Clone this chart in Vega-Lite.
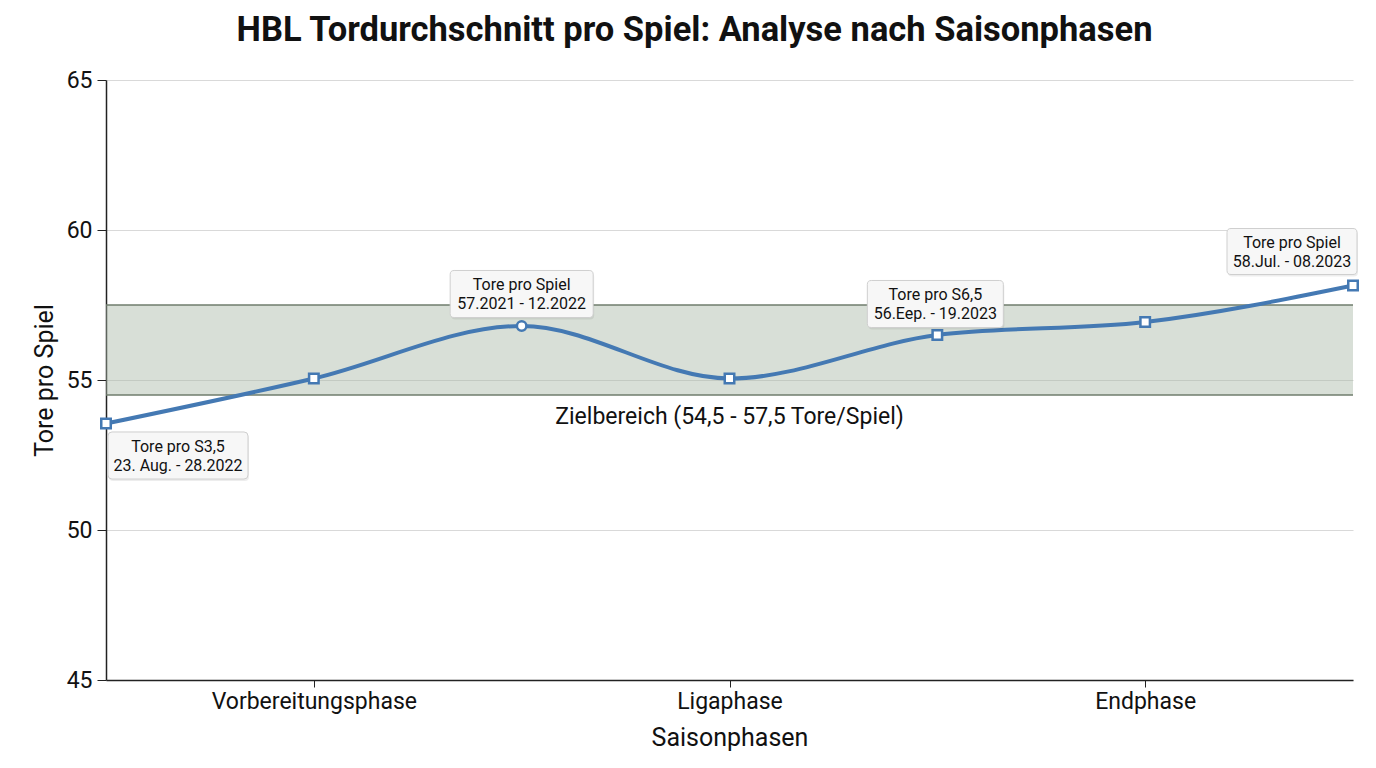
{
  "$schema": "https://vega.github.io/schema/vega-lite/v6.json",
  "autosize": {"type": "none"},
  "padding": {"left": 106, "top": 80, "right": 23, "bottom": 88},
  "width": 1247,
  "height": 600,
  "background": "white",
  "config": {
    "font": "Roboto",
    "view": {"stroke": null},
    "axis": {"labelFont": "Roboto", "titleFont": "Roboto", "labelColor": "#111111", "titleColor": "#111111", "labelLimit": 500}
  },
  "title": {
    "text": "HBL Tordurchschnitt pro Spiel: Analyse nach Saisonphasen",
    "fontSize": 34.5,
    "fontWeight": "bold",
    "font": "Roboto",
    "color": "#111111",
    "anchor": "middle",
    "dx": -35,
    "offset": 21
  },
  "datasets": {
    "punkte": [
      {"idx": 0, "tore": 53.55, "label": "Tore pro S3,5\n23. Aug. - 28.2022"},
      {"idx": 1, "tore": 55.05, "label": ""},
      {"idx": 2, "tore": 56.8, "label": "Tore pro Spiel\n57.2021 - 12.2022"},
      {"idx": 3, "tore": 55.05, "label": ""},
      {"idx": 4, "tore": 56.5, "label": "Tore pro S6,5\n56.Eep. - 19.2023"},
      {"idx": 5, "tore": 56.93, "label": ""},
      {"idx": 6, "tore": 58.15, "label": "Tore pro Spiel\n58.Jul. - 08.2023"}
    ],
    "band": [{"von": 54.5, "bis": 57.5, "mitte": 3, "text": "Zielbereich (54,5 - 57,5 Tore/Spiel)"}]
  },
  "layer": [
    {
      "data": {"name": "band"},
      "mark": {"type": "rect", "fill": "#a9b8a6", "opacity": 0.45},
      "encoding": {
        "y": {
          "field": "von", "type": "quantitative",
          "scale": {"domain": [45, 65], "nice": false, "zero": false},
          "axis": {
            "values": [45, 50, 55, 60, 65],
            "title": "Tore pro Spiel",
            "grid": true,
            "gridColor": "#d9d9d9",
            "domainColor": "#222222",
            "domainWidth": 1.5,
            "tickColor": "#222222",
            "tickSize": 9,
            "labelFontSize": 23,
            "titleFontSize": 25,
            "titleFontWeight": "normal",
            "labelPadding": 5,
            "titlePadding": 9
          }
        },
        "y2": {"field": "bis"}
      }
    },
    {
      "data": {"name": "band"},
      "mark": {"type": "rule", "color": "#6f7d6c", "strokeWidth": 1.5},
      "encoding": {"y": {"field": "von", "type": "quantitative"}}
    },
    {
      "data": {"name": "band"},
      "mark": {"type": "rule", "color": "#6f7d6c", "strokeWidth": 1.5},
      "encoding": {"y": {"field": "bis", "type": "quantitative"}}
    },
    {
      "data": {"name": "punkte"},
      "mark": {"type": "line", "interpolate": "monotone", "color": "#4479b3", "strokeWidth": 4},
      "encoding": {
        "x": {
          "field": "idx", "type": "quantitative",
          "scale": {"domain": [0, 6], "nice": false, "zero": false},
          "axis": {
            "values": [1, 3, 5],
            "labelExpr": "datum.value == 1 ? 'Vorbereitungsphase' : datum.value == 3 ? 'Ligaphase' : 'Endphase'",
            "title": "Saisonphasen",
            "grid": false,
            "domainColor": "#222222",
            "domainWidth": 1.5,
            "tickColor": "#222222",
            "tickSize": 7,
            "labelFontSize": 23,
            "titleFontSize": 25,
            "titleFontWeight": "normal",
            "labelPadding": 3,
            "titlePadding": 12
          }
        },
        "y": {"field": "tore", "type": "quantitative"}
      }
    },
    {
      "data": {"name": "band"},
      "mark": {"type": "text", "fontSize": 23, "color": "#111111", "dy": 22, "baseline": "middle", "align": "center"},
      "encoding": {"x": {"field": "mitte", "type": "quantitative"}, "y": {"field": "von", "type": "quantitative"}, "text": {"field": "text"}}
    },
    {
      "data": {"name": "punkte"},
      "encoding": {"x": {"field": "idx", "type": "quantitative"}, "y": {"field": "tore", "type": "quantitative"}},
      "layer": [
        {
          "transform": [{"filter": "datum.idx != 2"}],
          "mark": {"type": "point", "shape": "square", "size": 90, "filled": true, "fill": "white", "stroke": "#4479b3", "strokeWidth": 2.5, "opacity": 1}
        },
        {
          "transform": [{"filter": "datum.idx == 2"}],
          "mark": {"type": "point", "shape": "circle", "size": 90, "filled": true, "fill": "white", "stroke": "#4479b3", "strokeWidth": 2.5, "opacity": 1}
        },
        {
          "transform": [{"filter": "datum.idx == 0"}],
          "mark": {"type": "point", "shape": "M-0.943,-0.336 L0.943,-0.336 Q1,-0.336 1,-0.279 L1,0.279 Q1,0.336 0.943,0.336 L-0.943,0.336 Q-1,0.336 -1,0.279 L-1,-0.279 Q-1,-0.336 -0.943,-0.336 Z", "size": 19600, "filled": true, "fill": "#000000", "opacity": 0.07, "xOffset": 73, "yOffset": 34}
        },
        {
          "transform": [{"filter": "datum.idx == 0"}],
          "mark": {"type": "point", "shape": "M-0.943,-0.336 L0.943,-0.336 Q1,-0.336 1,-0.279 L1,0.279 Q1,0.336 0.943,0.336 L-0.943,0.336 Q-1,0.336 -1,0.279 L-1,-0.279 Q-1,-0.336 -0.943,-0.336 Z", "size": 19600, "filled": true, "fill": "#f7f7f7", "stroke": "#cfcfcf", "strokeWidth": 1, "opacity": 1, "xOffset": 72, "yOffset": 32}
        },
        {
          "transform": [{"filter": "datum.idx == 0"}],
          "mark": {"type": "text", "fontSize": 16, "color": "#111111", "lineBreak": "\n", "lineHeight": 19, "align": "center", "baseline": "middle", "dx": 72, "dy": 23},
          "encoding": {"text": {"field": "label"}}
        },
        {
          "transform": [{"filter": "datum.idx == 2"}],
          "mark": {"type": "point", "shape": "M-0.944,-0.329 L0.944,-0.329 Q1,-0.329 1,-0.273 L1,0.273 Q1,0.329 0.944,0.329 L-0.944,0.329 Q-1,0.329 -1,0.273 L-1,-0.273 Q-1,-0.329 -0.944,-0.329 Z", "size": 20449, "filled": true, "fill": "#000000", "opacity": 0.07, "xOffset": 1, "yOffset": -30}
        },
        {
          "transform": [{"filter": "datum.idx == 2"}],
          "mark": {"type": "point", "shape": "M-0.944,-0.329 L0.944,-0.329 Q1,-0.329 1,-0.273 L1,0.273 Q1,0.329 0.944,0.329 L-0.944,0.329 Q-1,0.329 -1,0.273 L-1,-0.273 Q-1,-0.329 -0.944,-0.329 Z", "size": 20449, "filled": true, "fill": "#f7f7f7", "stroke": "#cfcfcf", "strokeWidth": 1, "opacity": 1, "xOffset": 0, "yOffset": -32}
        },
        {
          "transform": [{"filter": "datum.idx == 2"}],
          "mark": {"type": "text", "fontSize": 16, "color": "#111111", "lineBreak": "\n", "lineHeight": 19, "align": "center", "baseline": "middle", "dx": 0, "dy": -41},
          "encoding": {"text": {"field": "label"}}
        },
        {
          "transform": [{"filter": "datum.idx == 4"}],
          "mark": {"type": "point", "shape": "M-0.941,-0.346 L0.941,-0.346 Q1,-0.346 1,-0.287 L1,0.287 Q1,0.346 0.941,0.346 L-0.941,0.346 Q-1,0.346 -1,0.287 L-1,-0.287 Q-1,-0.346 -0.941,-0.346 Z", "size": 18496, "filled": true, "fill": "#000000", "opacity": 0.07, "xOffset": -1, "yOffset": -29}
        },
        {
          "transform": [{"filter": "datum.idx == 4"}],
          "mark": {"type": "point", "shape": "M-0.941,-0.346 L0.941,-0.346 Q1,-0.346 1,-0.287 L1,0.287 Q1,0.346 0.941,0.346 L-0.941,0.346 Q-1,0.346 -1,0.287 L-1,-0.287 Q-1,-0.346 -0.941,-0.346 Z", "size": 18496, "filled": true, "fill": "#f7f7f7", "stroke": "#cfcfcf", "strokeWidth": 1, "opacity": 1, "xOffset": -2, "yOffset": -31}
        },
        {
          "transform": [{"filter": "datum.idx == 4"}],
          "mark": {"type": "text", "fontSize": 16, "color": "#111111", "lineBreak": "\n", "lineHeight": 19, "align": "center", "baseline": "middle", "dx": -2, "dy": -40},
          "encoding": {"text": {"field": "label"}}
        },
        {
          "transform": [{"filter": "datum.idx == 6"}],
          "mark": {"type": "point", "shape": "M-0.938,-0.354 L0.938,-0.354 Q1,-0.354 1,-0.292 L1,0.292 Q1,0.354 0.938,0.354 L-0.938,0.354 Q-1,0.354 -1,0.292 L-1,-0.292 Q-1,-0.354 -0.938,-0.354 Z", "size": 16900, "filled": true, "fill": "#000000", "opacity": 0.07, "xOffset": -60, "yOffset": -32}
        },
        {
          "transform": [{"filter": "datum.idx == 6"}],
          "mark": {"type": "point", "shape": "M-0.938,-0.354 L0.938,-0.354 Q1,-0.354 1,-0.292 L1,0.292 Q1,0.354 0.938,0.354 L-0.938,0.354 Q-1,0.354 -1,0.292 L-1,-0.292 Q-1,-0.354 -0.938,-0.354 Z", "size": 16900, "filled": true, "fill": "#f7f7f7", "stroke": "#cfcfcf", "strokeWidth": 1, "opacity": 1, "xOffset": -61, "yOffset": -34}
        },
        {
          "transform": [{"filter": "datum.idx == 6"}],
          "mark": {"type": "text", "fontSize": 16, "color": "#111111", "lineBreak": "\n", "lineHeight": 19, "align": "center", "baseline": "middle", "dx": -61, "dy": -43},
          "encoding": {"text": {"field": "label"}}
        }
      ]
    }
  ]
}
